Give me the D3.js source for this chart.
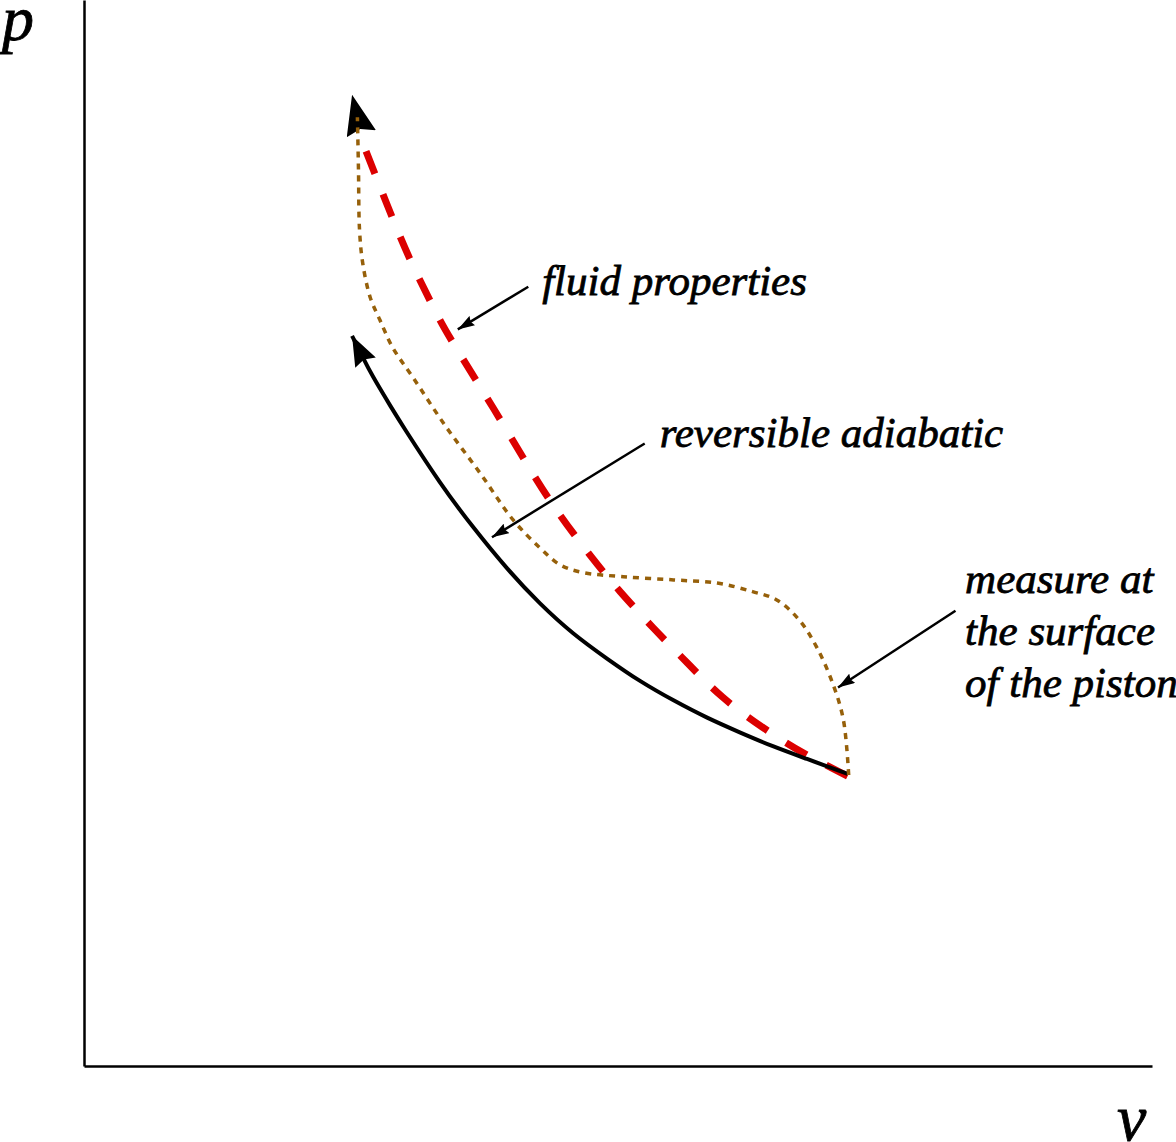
<!DOCTYPE html>
<html>
<head>
<meta charset="utf-8">
<script src="https://cdn.jsdelivr.net/npm/d3@7"></script>
<style>
  body { margin: 0; background: #fff; }
  text { font-family: "Liberation Serif", "Times New Roman", serif; font-style: italic; }
</style>
</head>
<body>
<div id="chart-area"></div>
<script>
// p-v diagram, schematic units (0..10 on both axes)

// reversible adiabatic (solid black), from start state upward
let adiabaticV = [7.15, 6.77, 6.45, 6.14, 5.83, 5.52, 5.21, 4.90, 4.58, 4.27, 3.96, 3.64, 3.33, 3.02, 2.87, 2.71, 2.61, 2.51];
let adiabaticP = [2.74, 2.88, 3.00, 3.13, 3.27, 3.43, 3.61, 3.82, 4.06, 4.34, 4.67, 5.06, 5.48, 5.95, 6.19, 6.46, 6.65, 6.85];

// fluid properties (red dashed)
let fluidV = [7.15, 6.73, 6.35, 5.98, 5.65, 5.33, 5.02, 4.74, 4.34, 3.90, 3.47, 3.27, 3.07, 2.89, 2.72, 2.61];
let fluidP = [2.72, 2.94, 3.18, 3.46, 3.78, 4.11, 4.45, 4.79, 5.34, 6.06, 6.76, 7.12, 7.53, 7.95, 8.38, 8.66];

// measured at the surface of the piston (brown dotted)
let pistonV = [7.16, 7.11, 7.01, 6.86, 6.70, 6.49, 6.26, 5.93, 5.52, 5.05, 4.67, 4.46, 4.27, 4.02, 3.71, 3.38, 3.08, 2.89, 2.77, 2.68, 2.61, 2.58, 2.57, 2.56];
let pistonP = [2.73, 3.25, 3.59, 3.93, 4.18, 4.37, 4.45, 4.53, 4.56, 4.59, 4.63, 4.70, 4.86, 5.12, 5.56, 6.01, 6.46, 6.74, 7.00, 7.21, 7.53, 7.84, 8.41, 8.90];
let pistonTip = [2.51, 9.11];

// annotations
let noteLines = [["fluid properties"], ["reversible adiabatic"], ["measure at", "the surface", "of the piston"]];
let noteTail = [[4.16, 7.31], [5.25, 5.84], [8.16, 4.27]];
let noteTip = [[3.50, 6.91], [3.82, 4.96], [7.06, 3.55]];
let noteText = [[4.29, 7.23], [5.39, 5.81], [8.25, 4.44]];

let width = 1176, height = 1142;

let svg = d3.select("#chart-area").append("svg").attr("width", width).attr("height", height);

let x = d3.scaleLinear().domain([0, 10]).range([84, 1152]);
let y = d3.scaleLinear().domain([0, 10]).range([1066, 0]);

// arrowheads, slightly notched at the back
let defs = svg.append("defs");
function marker(id, len, wid) {
  defs.append("marker")
      .attr("id", id)
      .attr("markerUnits", "userSpaceOnUse")
      .attr("viewBox", `0 ${-wid / 2} ${len} ${wid}`)
      .attr("refX", len).attr("refY", 0)
      .attr("markerWidth", len).attr("markerHeight", wid)
      .attr("orient", "auto")
    .append("path")
      .attr("d", `M0,${-wid / 2}L${len},0L0,${wid / 2}L${len * 0.12},0Z`)
      .attr("fill", "black");
}
marker("head-big", 40, 30);
marker("head-mid", 30, 23);
marker("head-small", 17, 11);

// axes, no ticks
svg.append("g")
    .attr("transform", `translate(${x(0)},0)`)
    .call(d3.axisLeft(y).tickValues([]).tickSizeOuter(0))
    .select(".domain").attr("stroke-width", 2.5);

svg.append("g")
    .attr("transform", `translate(0,${y(0)})`)
    .call(d3.axisBottom(x).tickValues([]).tickSizeOuter(0))
    .select(".domain").attr("stroke-width", 2.5);

svg.append("text").attr("x", 2).attr("y", 40).attr("font-size", 64)
    .attr("stroke", "black").attr("stroke-width", 0.8).text("p");
svg.append("text").attr("x", 1117).attr("y", 1140).attr("font-size", 66)
    .attr("stroke", "black").attr("stroke-width", 0.8).text("v");

let line = d3.line().x(d => x(d[0])).y(d => y(d[1])).curve(d3.curveCatmullRom);
let smooth = d3.line().x(d => x(d[0])).y(d => y(d[1])).curve(d3.curveNatural);

// red dashed
svg.append("path")
    .attr("d", smooth(d3.zip(fluidV, fluidP)))
    .attr("fill", "none")
    .attr("stroke", "#dc0000")
    .attr("stroke-width", 7)
    .attr("stroke-dasharray", "24,22");

// solid black
svg.append("path")
    .attr("d", smooth(d3.zip(adiabaticV, adiabaticP)))
    .attr("fill", "none")
    .attr("stroke", "black")
    .attr("stroke-width", 4)
    .attr("marker-end", "url(#head-mid)");

// brown dotted, head drawn first so dots sit on top
let pistonPts = d3.zip(pistonV, pistonP);
svg.append("path")
    .attr("d", d3.line().x(d => x(d[0])).y(d => y(d[1]))([pistonPts[pistonPts.length - 1], pistonTip]))
    .attr("fill", "none")
    .attr("stroke", "none")
    .attr("marker-end", "url(#head-big)");

svg.append("path")
    .attr("d", line(pistonPts))
    .attr("fill", "none")
    .attr("stroke", "#96600a")
    .attr("stroke-width", 3.5)
    .attr("stroke-dasharray", "6,6");

// annotations
noteLines.forEach((lines, i) => {
  svg.append("line")
      .attr("x1", x(noteTail[i][0])).attr("y1", y(noteTail[i][1]))
      .attr("x2", x(noteTip[i][0])).attr("y2", y(noteTip[i][1]))
      .attr("stroke", "black")
      .attr("stroke-width", 2.5)
      .attr("marker-end", "url(#head-small)");

  let t = svg.append("text")
      .attr("x", x(noteText[i][0]))
      .attr("y", y(noteText[i][1]))
      .attr("font-size", 43)
      .attr("stroke", "black")
      .attr("stroke-width", 0.8);
  lines.forEach((s, j) => {
    t.append("tspan").attr("x", x(noteText[i][0])).attr("dy", j ? 52 : 0).text(s);
  });
});
</script>
</body>
</html>
